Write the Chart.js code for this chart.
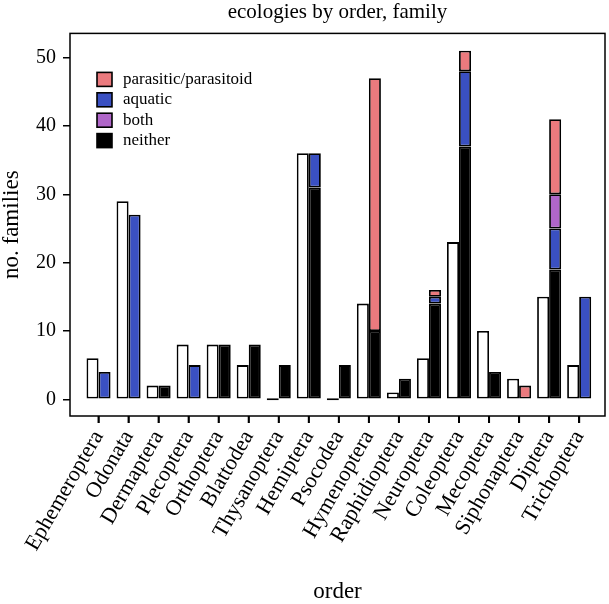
<!DOCTYPE html>
<html>
<head>
<meta charset="utf-8">
<script src="https://cdn.jsdelivr.net/npm/chart.js@4.4.1/dist/chart.umd.min.js"></script>
<style>
  html, body { margin: 0; padding: 0; background: #ffffff; }
  #wrap { width: 609px; height: 604px; position: relative; }
</style>
</head>
<body>
<div id="wrap"><canvas id="c" width="609" height="604"></canvas></div>
<script>
const categories = ["Ephemeroptera","Odonata","Dermaptera","Plecoptera","Orthoptera","Blattodea","Thysanoptera","Hemiptera","Psocodea","Hymenoptera","Raphidioptera","Neuroptera","Coleoptera","Mecoptera","Siphonaptera","Diptera","Trichoptera"];
const totalFamilies = [6,29,2,8,8,5,0,36,0,14,1,6,23,10,3,15,5];
const neither   = [0,0,2,0,8,8,5,31,5,10,3,14,37,4,0,19,0];
const aquatic   = [4,27,0,5,0,0,0,5,0,0,0,1,11,0,0,6,15];
const both      = [0,0,0,0,0,0,0,0,0,0,0,0,0,0,0,5,0];
const parasitic = [0,0,0,0,0,0,0,0,0,37,0,1,3,0,2,11,0];
const yTicks = [0,10,20,30,40,50];
const chartTitle = 'ecologies by order, family';

const FONT = "'Liberation Serif', 'Times New Roman', serif";
const COLORS = { parasitic: '#EB7A7E', aquatic: '#3A50C2', both: '#B066C9', neither: '#000000' };

const toXY = arr => arr.map((v, i) => ({ x: i, y: v }));

const common = { borderColor: '#000', borderWidth: 1.8, borderSkipped: false };
const datasets = [
  Object.assign({ label: 'total', data: toXY(totalFamilies), backgroundColor: '#ffffff', stack: 'all', minBarLength: 2 }, common),
  Object.assign({ label: 'neither', data: toXY(neither), backgroundColor: COLORS.neither, stack: 'eco' }, common),
  Object.assign({ label: 'aquatic', data: toXY(aquatic), backgroundColor: COLORS.aquatic, stack: 'eco' }, common),
  Object.assign({ label: 'both', data: toXY(both), backgroundColor: COLORS.both, stack: 'eco' }, common),
  Object.assign({ label: 'parasitic/parasitoid', data: toXY(parasitic), backgroundColor: COLORS.parasitic, stack: 'eco' }, common)
];
const legendOrder = ['parasitic/parasitoid', 'aquatic', 'both', 'neither'];

const framePlugin = {
  id: 'frame',
  afterDraw(chart) {
    const { ctx, chartArea: a } = chart;
    const xs = chart.scales.x;
    ctx.save();
    ctx.strokeStyle = '#000';
    ctx.lineWidth = 1.5;
    ctx.strokeRect(a.left, a.top, a.right - a.left, a.bottom - a.top);
    ctx.restore();
    ctx.save();
    ctx.strokeStyle = '#000000';
    ctx.lineWidth = 2;
    ctx.beginPath();
    for (let i = 0; i < categories.length; i++) {
      const px = xs.getPixelForValue(i);
      ctx.moveTo(px, a.bottom);
      ctx.lineTo(px, a.bottom + 7);
    }
    ctx.stroke();
    ctx.restore();
  }
};

const titlePlugin = {
  id: 'plotTitle',
  afterDraw(chart) {
    const { ctx, chartArea: a } = chart;
    ctx.save();
    ctx.font = '21px ' + FONT;
    ctx.fillStyle = '#000';
    ctx.textAlign = 'center';
    ctx.textBaseline = 'alphabetic';
    ctx.fillText(chartTitle, (a.left + a.right) / 2, a.top - 15);
    ctx.restore();
  }
};

const insideLegend = {
  id: 'insideLegend',
  afterDraw(chart) {
    const { ctx, chartArea: a } = chart;
    ctx.save();
    ctx.font = '17px ' + FONT;
    ctx.textBaseline = 'middle';
    ctx.textAlign = 'left';
    const x0 = a.left + 27, y0 = a.top + 46, step = 20.4, bw = 15, bh = 14;
    legendOrder.forEach((lab, i) => {
      const ds = chart.data.datasets.find(d => d.label === lab);
      const cy = y0 + i * step;
      ctx.fillStyle = ds.backgroundColor;
      ctx.fillRect(x0, cy - bh / 2, bw, bh);
      ctx.strokeStyle = '#000';
      ctx.lineWidth = 1.6;
      ctx.strokeRect(x0, cy - bh / 2, bw, bh);
      ctx.fillStyle = '#000';
      ctx.fillText(lab, x0 + 26, cy);
    });
    ctx.restore();
  }
};

new Chart(document.getElementById('c'), {
  type: 'bar',
  data: { datasets },
  options: {
    responsive: false,
    animation: false,
    layout: { padding: { left: 0, right: 4, top: 33.4, bottom: 0 } },
    datasets: { bar: { categoryPercentage: 0.8, barPercentage: 1.0 } },
    plugins: {
      legend: { display: false },
      tooltip: { enabled: false },
      title: { display: false }
    },
    scales: {
      x: {
        type: 'linear',
        min: -0.95,
        max: 16.86,
        offset: false,
        afterBuildTicks: s => { s.ticks = categories.map((c, i) => ({ value: i })); },
        afterFit: s => { s.height = 188; },
        ticks: {
          callback: v => categories[v],
          color: '#000',
          font: { family: FONT, size: 22 },
          maxRotation: 60, minRotation: 60,
          autoSkip: false,
          padding: 3
        },
        grid: { display: true, offset: false, drawOnChartArea: false, drawTicks: true, tickLength: 7, color: '#000', lineWidth: 1.5 },
        border: { display: false },
        title: { display: true, text: 'order', color: '#000', font: { family: FONT, size: 23, lineHeight: 1.0 }, padding: { top: 0, bottom: 1 } }
      },
      y: {
        stacked: true,
        min: -2.45,
        max: 53.55,
        afterBuildTicks: s => { s.ticks = yTicks.map(v => ({ value: v })); },
        afterFit: s => { s.width = 70; },
        ticks: { color: '#000', font: { family: FONT, size: 20 }, padding: 7 },
        grid: { display: true, drawOnChartArea: false, drawTicks: true, tickLength: 7, color: '#000', lineWidth: 1.5 },
        border: { display: false },
        title: { display: true, text: 'no. families', color: '#000', font: { family: FONT, size: 23, lineHeight: 1.0 }, padding: { top: 0, bottom: 0 } }
      }
    }
  },
  plugins: [framePlugin, titlePlugin, insideLegend]
});
</script>
</body>
</html>
